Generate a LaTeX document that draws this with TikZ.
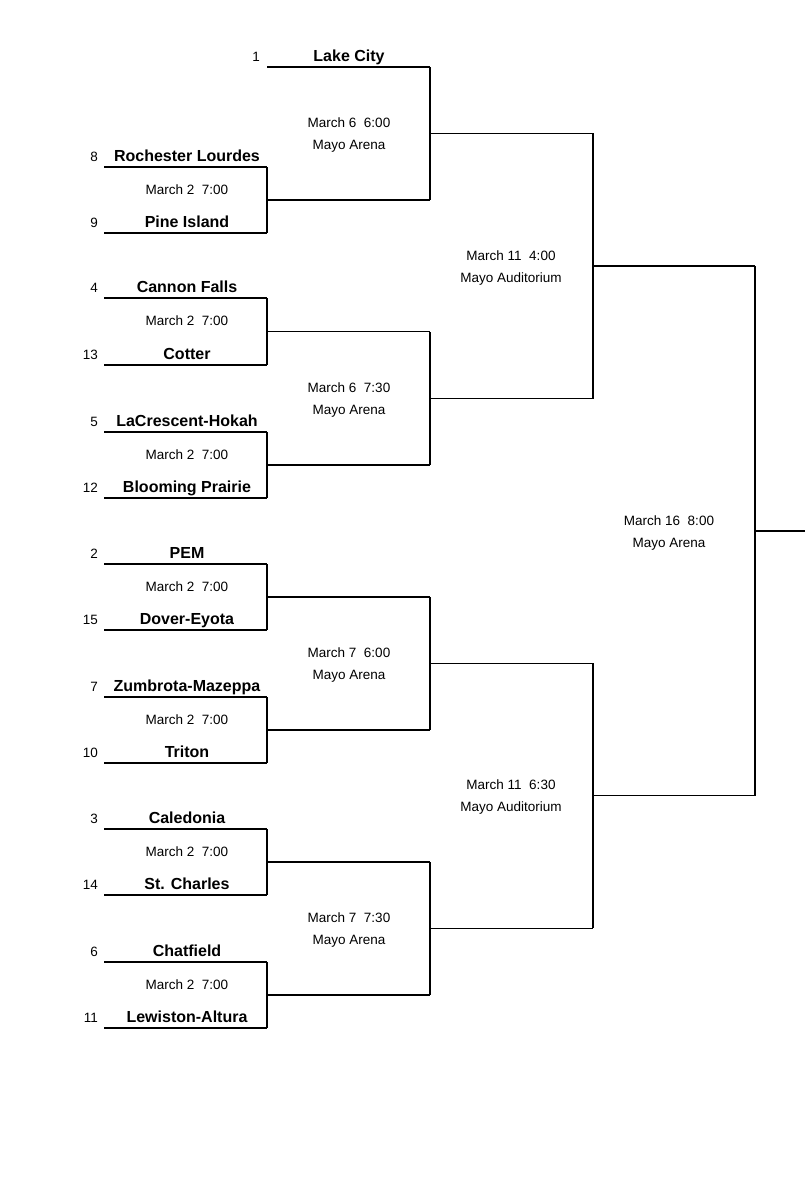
\documentclass[tikz,border=0pt]{standalone}
\usepackage{fontspec}
\setmainfont{Liberation Sans}
\begin{document}
\begin{tikzpicture}[x=1pt,y=-1pt,line width=1.6pt,
  team/.style={font=\bfseries\fontsize{16}{18}\selectfont,anchor=base},
  seed/.style={font=\fontsize{13.5}{15}\selectfont,anchor=base east},
  info/.style={font=\fontsize{13.5}{15}\selectfont,anchor=base,align=center}]
\fill[white] (0,0) rectangle (805,1200);
\useasboundingbox (0,0) rectangle (805,1200);
% first round entries: y, seed, name
\foreach \y/\s/\n in {167/8/Rochester Lourdes,233/9/Pine Island,298/4/Cannon Falls,365/13/Cotter,432/5/LaCrescent-Hokah,498/12/Blooming Prairie,564/2/PEM,630/15/Dover-Eyota,697/7/Zumbrota-Mazeppa,763/10/Triton,829/3/Caledonia,895/14/St. Charles,962/6/Chatfield,1028/11/Lewiston-Altura}{
  \node[seed] at (102,\y-6) {\s};
  \node[team] at (187,\y-6) {\n};
  \draw (104,\y) -- (267,\y);
}
% bye
\node[seed] at (264,61) {1};
\node[team] at (349,61) {Lake City};
\draw (267,67) -- (430,67);
% round 1 games
\foreach \a/\b in {167/233,298/365,432/498,564/630,697/763,829/895,962/1028}{
  \draw (267,\a) -- (267,\b);
  \draw (267,{(\a+\b)/2}) -- (430,{(\a+\b)/2});
  \node[info] at (187,{(\a+\b)/2-6}) {March 2\ \ 7:00};
}
% quarterfinals
\foreach \a/\b/\t in {67/200/March 6\ \ 6:00,332/465/March 6\ \ 7:30,597/730/March 7\ \ 6:00,862/995/March 7\ \ 7:30}{
  \draw (430,\a) -- (430,\b);
  \draw (430,{(\a+\b)/2}) -- (593,{(\a+\b)/2});
  \node[info] at (349,{(\a+\b)/2-6}) {\t};
  \node[info] at (349,{(\a+\b)/2+16}) {Mayo Arena};
}
% semifinals
\foreach \a/\b/\t in {133/399/March 11\ \ 4:00,663/928/March 11\ \ 6:30}{
  \draw (593,\a) -- (593,\b);
  \draw (593,{(\a+\b)/2}) -- (755,{(\a+\b)/2});
  \node[info] at (511,{(\a+\b)/2-6}) {\t};
  \node[info] at (511,{(\a+\b)/2+16}) {Mayo Auditorium};
}
% final
\draw (755,266) -- (755,796);
\draw (755,531) -- (806,531);
\node[info] at (669,525) {March 16\ \ 8:00};
\node[info] at (669,547) {Mayo Arena};
\end{tikzpicture}
\end{document}
